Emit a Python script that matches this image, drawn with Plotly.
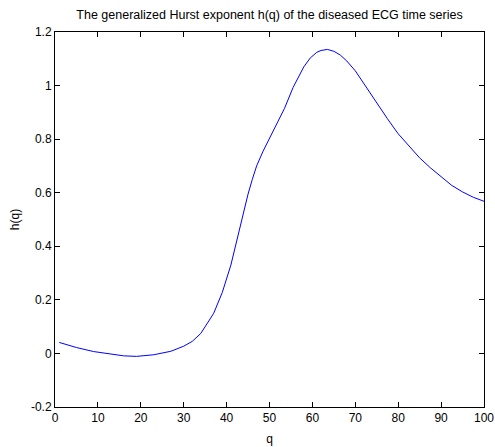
import plotly.graph_objects as go

# generalized Hurst exponent h(q) against moment order q
q_vals = [1, 5, 9, 13, 16, 19, 23, 27, 30, 32, 34, 37, 39, 41, 42.5, 44, 45,
          46, 47, 48.5, 50, 52, 53.5, 55.5, 58, 59.5, 61, 62, 63.5, 65, 66.5,
          68, 70, 72.5, 75, 77.5, 80, 82.5, 85, 87.5, 90, 92.5, 95, 97.5, 100]
h_vals = [0.041, 0.022, 0.007, -0.003, -0.009, -0.011, -0.005, 0.008, 0.027,
          0.045, 0.075, 0.150, 0.228, 0.330, 0.430, 0.520, 0.595, 0.650, 0.700,
          0.755, 0.805, 0.867, 0.915, 0.993, 1.070, 1.103, 1.124, 1.131, 1.135,
          1.128, 1.114, 1.092, 1.055, 0.995, 0.935, 0.876, 0.820, 0.775, 0.730,
          0.693, 0.660, 0.627, 0.603, 0.583, 0.568]

x_ticks = [0, 10, 20, 30, 40, 50, 60, 70, 80, 90, 100]
y_ticks = [-0.2, 0, 0.2, 0.4, 0.6, 0.8, 1.0, 1.2]
y_tick_text = ["-0.2", "0", "0.2", "0.4", "0.6", "0.8", "1", "1.2"]

FONT = "Liberation Sans, Arial, sans-serif"

fig = go.Figure()
fig.add_trace(go.Scatter(x=q_vals, y=h_vals, mode="lines",
                         line=dict(color="#0000ff", width=1),
                         showlegend=False))

axis_common = dict(showline=True, linecolor="black", linewidth=1,
                   mirror="allticks", ticks="inside", ticklen=5,
                   tickcolor="black", showgrid=False, zeroline=False,
                   automargin=False,
                   tickfont=dict(family=FONT, size=12, color="black"))

fig.update_xaxes(range=[0, 100], tickvals=x_ticks,
                 title=dict(text="q", font=dict(family=FONT, size=12, color="black"),
                            standoff=10),
                 **axis_common)
fig.update_yaxes(range=[-0.2, 1.2], tickvals=y_ticks, ticktext=y_tick_text,
                 title=dict(text="h(q)", font=dict(family=FONT, size=12, color="black"),
                            standoff=8),
                 **axis_common)

fig.update_layout(
    width=495, height=447,
    margin=dict(l=55, r=11, t=32, b=40, autoexpand=False),
    paper_bgcolor="white", plot_bgcolor="white",
    title=dict(text="The generalized Hurst exponent h(q) of the diseased ECG time series",
               font=dict(family=FONT, size=12.5, color="black"),
               x=0.5, xanchor="center", xref="paper",
               y=1 - 15 / 447, yanchor="middle", yref="container"),
)

fig.write_html("out.html")
